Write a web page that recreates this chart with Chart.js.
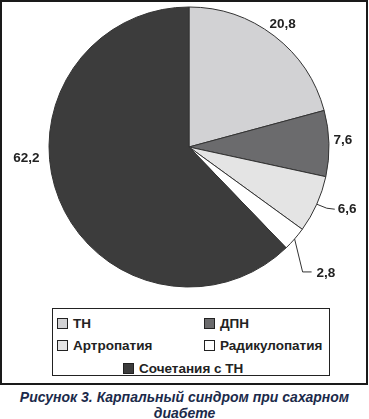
<!DOCTYPE html>
<html>
<head>
<meta charset="utf-8">
<script src="https://cdn.jsdelivr.net/npm/chart.js@4.4.0/dist/chart.umd.min.js"></script>
<style>
    html, body { margin: 0; padding: 0; background: #fff; }
    body { width: 369px; height: 419px; position: relative; overflow: hidden; font-family: "Liberation Sans", Arial, sans-serif; }
    #frame { position: absolute; left: 0; top: 0; width: 368px; height: 385px; border: 2px solid #1a1a1a; box-sizing: border-box; }
    #pie { position: absolute; left: 0; top: 0; }
    #legend {
        position: absolute; left: 52px; top: 308px; width: 278px; height: 68px;
        border: 1px solid #222; box-sizing: border-box;
        display: grid; grid-template-columns: 147px 125px; grid-auto-rows: 22.5px;
        padding: 3px 0 0 4px;
        font-weight: bold; font-size: 13.5px; color: #222;
    }
    .item { display: flex; align-items: center; white-space: nowrap; }
    .item.wide { grid-column: 1 / span 2; padding-left: 66px; }
    .swatch { width: 9px; height: 9px; border: 1px solid #222; margin-right: 5px; flex: none; }
    #caption {
        position: absolute; left: 0; top: 389px; width: 369px; text-align: center;
        font-weight: bold; font-style: italic; font-size: 14px; line-height: 16px; color: #1b2a4a;
    }
</style>
</head>
<body>
<div id="frame"></div>
<canvas id="pie" width="368" height="300"></canvas>
<div id="legend"></div>
<div id="caption">Рисунок 3. Карпальный синдром при сахарном<br>диабете</div>

<script>
'use strict';

// Data (percent)
const categories = ['ТН', 'ДПН', 'Артропатия', 'Радикулопатия', 'Сочетания с ТН'];
const shares = [20.8, 7.6, 6.6, 2.8, 62.2];
const valueLabels = ['20,8', '7,6', '6,6', '2,8', '62,2'];

// Styling
const sliceColors = ['#d2d2d4', '#6b6b6d', '#e4e4e4', '#ffffff', '#3c3c3c'];
const labelPlacement = [
    { dist: 154 },
    { dist: 154, dy: -3 },
    { leader: [[10, 4], [18, 5]], dx: 21, dy: 5 },
    { leader: [[8, 33], [17, 33]], dx: 22, dy: 34 },
    { dist: 163, turn: 18 }
];

const valueLabelsPlugin = {
    id: 'valueLabels',
    afterDatasetsDraw(chart) {
        const ctx = chart.ctx;
        const arcs = chart.getDatasetMeta(0).data;
        ctx.save();
        ctx.font = 'bold 13.5px "Liberation Sans", Arial, sans-serif';
        ctx.fillStyle = '#222';
        ctx.strokeStyle = '#333';
        ctx.lineWidth = 1;
        ctx.textBaseline = 'middle';
        arcs.forEach((arc, i) => {
            const p = labelPlacement[i];
            const mid = (arc.startAngle + arc.endAngle) / 2 + (p.turn || 0) * Math.PI / 180;
            if (p.leader) {
                // leader line from the arc edge
                const ax = arc.x + Math.cos(mid) * arc.outerRadius;
                const ay = arc.y + Math.sin(mid) * arc.outerRadius;
                ctx.beginPath();
                ctx.moveTo(ax, ay);
                p.leader.forEach(pt => ctx.lineTo(ax + pt[0], ay + pt[1]));
                ctx.stroke();
                ctx.textAlign = 'left';
                ctx.fillText(valueLabels[i], ax + p.dx, ay + p.dy);
            } else {
                const lx = arc.x + Math.cos(mid) * p.dist;
                const ly = arc.y + Math.sin(mid) * p.dist + (p.dy || 0);
                ctx.textAlign = 'center';
                ctx.fillText(valueLabels[i], lx, ly);
            }
        });
        ctx.restore();
    }
};

new Chart(document.getElementById('pie').getContext('2d'), {
    type: 'pie',
    data: {
        labels: categories,
        datasets: [{
            data: shares,
            backgroundColor: sliceColors,
            borderColor: '#333',
            borderWidth: 1,
            hoverOffset: 0,
            offset: 0
        }]
    },
    options: {
        responsive: false,
        animation: false,
        radius: 140,
        layout: { padding: { left: 49, right: 39, top: 7, bottom: 13 } },
        plugins: {
            legend: { display: false },
            tooltip: { enabled: false }
        }
    },
    plugins: [valueLabelsPlugin]
});

// Legend built from the same arrays
const legendEl = document.getElementById('legend');
categories.forEach((name, i) => {
    const item = document.createElement('div');
    item.className = 'item' + (i === categories.length - 1 ? ' wide' : '');
    const sw = document.createElement('span');
    sw.className = 'swatch';
    sw.style.background = sliceColors[i];
    item.appendChild(sw);
    item.appendChild(document.createTextNode(name));
    legendEl.appendChild(item);
});
</script>
</body>
</html>
